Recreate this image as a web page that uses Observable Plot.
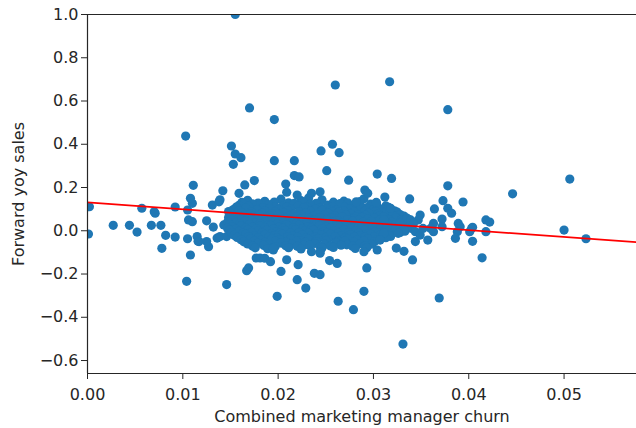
<!DOCTYPE html>
<html>
<head>
<meta charset="utf-8">
<script src="https://cdn.jsdelivr.net/npm/d3@7"></script>
<script src="https://cdn.jsdelivr.net/npm/@observablehq/plot@0.6"></script>
<style>
  html, body { margin: 0; padding: 0; background: #fff; }
  #chart svg { display: block; }
</style>
</head>
<body>
<div id="chart"></div>
<script>
// ---- data: [churn, forward yoy sales] ----
const upperPoints = [
  [0.0155, 1.0], [0.0103, 0.438], [0.0170, 0.568], [0.0196, 0.514], [0.0260, 0.674],
  [0.0317, 0.689], [0.0378, 0.560], [0.0151, 0.392], [0.0155, 0.355], [0.0161, 0.338],
  [0.0153, 0.307], [0.0196, 0.324], [0.0217, 0.324], [0.0245, 0.369], [0.0257, 0.400],
  [0.0264, 0.361], [0.0251, 0.278], [0.0304, 0.262], [0.0319, 0.242], [0.0175, 0.232],
  [0.0217, 0.255], [0.0222, 0.249], [0.0274, 0.234], [0.0506, 0.239], [0.0446, 0.171],
  [0.0378, 0.208], [0.0111, 0.210], [0.0142, 0.185], [0.0165, 0.212], [0.0208, 0.216],
  [0.0209, 0.178], [0.0220, 0.165], [0.0235, 0.173], [0.0244, 0.180], [0.0291, 0.188],
  [0.0294, 0.173], [0.0312, 0.156], [0.0338, 0.147], [0.0159, 0.173], [0.0108, 0.150],
  [0.0373, 0.139], [0.0394, 0.133], [0.0303, 0.131], [0.0282, 0.134]
];
const rightPoints = [
  [0.0364, 0.101], [0.0378, 0.104], [0.0382, 0.081], [0.0372, 0.054], [0.0349, 0.073],
  [0.0347, 0.050], [0.0335, 0.058], [0.0339, 0.050], [0.0318, 0.104], [0.0404, 0.016],
  [0.0403, 0.011], [0.0389, 0.034], [0.0391, 0.019], [0.0388, -0.004], [0.0386, -0.035],
  [0.0357, -0.043], [0.0404, -0.049], [0.0344, -0.050], [0.0401, -0.004], [0.0372, 0.019],
  [0.0363, 0.034], [0.0360, 0.011], [0.0363, -0.004], [0.0342, 0.034], [0.0344, -0.004],
  [0.0349, -0.020], [0.0352, 0.011], [0.0328, 0.034], [0.0332, 0.003], [0.0326, -0.012],
  [0.0311, 0.050], [0.0314, 0.019], [0.0311, -0.012], [0.0307, -0.043],
  [0.0418, 0.050], [0.0422, 0.040], [0.0418, -0.004], [0.0500, 0.003], [0.0523, -0.037],
  [0.0414, -0.125]
];
const lowerPoints = [
  [0.0341, -0.135], [0.0369, -0.311], [0.0290, -0.280], [0.0263, -0.326], [0.0279, -0.365],
  [0.0331, -0.524], [0.0293, -0.172], [0.0254, -0.138], [0.0262, -0.151], [0.0244, -0.203],
  [0.0238, -0.197], [0.0324, -0.080], [0.0332, -0.095], [0.0104, -0.234], [0.0146, -0.249],
  [0.0167, -0.185], [0.0169, -0.172], [0.0177, -0.126], [0.0181, -0.126], [0.0186, -0.127],
  [0.0192, -0.143], [0.0203, -0.188], [0.0199, -0.303], [0.0209, -0.134], [0.0220, -0.226],
  [0.0221, -0.157], [0.0229, -0.265], [0.0235, -0.097], [0.0244, -0.097], [0.0290, -0.097],
  [0.0195, -0.089], [0.0304, -0.089], [0.0244, -0.104], [0.0195, -0.081]
];
const leftPoints = [
  [0.0001, -0.015], [0.0002, 0.111], [0.0027, 0.025], [0.0044, 0.025], [0.0052, -0.006],
  [0.0067, 0.025], [0.0077, 0.025], [0.0082, -0.021], [0.0092, -0.029], [0.0078, -0.081],
  [0.0105, -0.037], [0.0108, -0.112], [0.0116, -0.049], [0.0127, -0.074], [0.0125, 0.046],
  [0.0132, 0.017], [0.0136, -0.034], [0.0057, 0.104], [0.0070, 0.088], [0.0071, 0.081],
  [0.0092, 0.110], [0.0131, 0.119], [0.0138, 0.134], [0.0110, 0.127], [0.0105, 0.096],
  [0.0106, 0.050], [0.0110, 0.042], [0.0115, -0.027], [0.0117, -0.050], [0.0125, -0.050],
  [0.0139, 0.143], [0.0143, 0.027], [0.0139, -0.027], [0.0146, -0.027]
];
const corePoints = [
  [0.0168, 0.141], [0.0186, 0.136], [0.0203, 0.146], [0.0224, 0.139], [0.0246, 0.143],
  [0.0269, 0.137], [0.0290, 0.148], [0.0232, 0.152],
  [0.0162, 0.131], [0.0179, 0.128], [0.0196, 0.133], [0.0211, 0.129], [0.0226, 0.134],
  [0.0240, 0.127], [0.0258, 0.132], [0.0273, 0.129], [0.0286, 0.135], [0.0303, 0.128],
  [0.0159, 0.118], [0.0173, 0.124], [0.0190, 0.121], [0.0205, 0.116], [0.0217, 0.127],
  [0.0234, 0.122], [0.0252, 0.119], [0.0265, 0.126], [0.0279, 0.117], [0.0297, 0.123],
  [0.0313, 0.115],
  [0.0156, 0.109], [0.0169, 0.113], [0.0184, 0.107], [0.0197, 0.111], [0.0209, 0.108],
  [0.0221, 0.114], [0.0230, 0.110], [0.0244, 0.107], [0.0257, 0.112], [0.0270, 0.109],
  [0.0282, 0.113], [0.0292, 0.106], [0.0304, 0.111], [0.0316, 0.108],
  [0.0153, 0.098], [0.0166, 0.104], [0.0178, 0.097], [0.0191, 0.102], [0.0200, 0.095],
  [0.0213, 0.101], [0.0227, 0.106], [0.0239, 0.099], [0.0250, 0.103], [0.0261, 0.096],
  [0.0275, 0.100], [0.0287, 0.105], [0.0299, 0.094], [0.0309, 0.099], [0.0322, 0.092],
  [0.0148, 0.089], [0.0159, 0.092], [0.0172, 0.087], [0.0186, 0.091], [0.0197, 0.088],
  [0.0210, 0.093], [0.0222, 0.087], [0.0234, 0.090], [0.0246, 0.094], [0.0257, 0.088],
  [0.0269, 0.091], [0.0280, 0.087], [0.0291, 0.093], [0.0302, 0.089], [0.0314, 0.092],
  [0.0325, 0.086],
  [0.0150, 0.079], [0.0162, 0.083], [0.0171, 0.076], [0.0183, 0.081], [0.0194, 0.078],
  [0.0206, 0.084], [0.0216, 0.077], [0.0229, 0.082], [0.0241, 0.075], [0.0253, 0.080],
  [0.0263, 0.085], [0.0276, 0.078], [0.0284, 0.073], [0.0295, 0.082], [0.0305, 0.077],
  [0.0317, 0.084], [0.0328, 0.075],
  [0.0153, 0.069], [0.0165, 0.072], [0.0174, 0.067], [0.0181, 0.071], [0.0191, 0.068],
  [0.0201, 0.073], [0.0212, 0.069], [0.0224, 0.071], [0.0237, 0.067], [0.0249, 0.072],
  [0.0260, 0.069], [0.0271, 0.073], [0.0282, 0.066], [0.0292, 0.071], [0.0306, 0.068],
  [0.0320, 0.072], [0.0332, 0.068],
  [0.0148, 0.061], [0.0158, 0.057], [0.0169, 0.063], [0.0177, 0.058], [0.0188, 0.062],
  [0.0197, 0.055], [0.0209, 0.060], [0.0220, 0.064], [0.0232, 0.057], [0.0244, 0.061],
  [0.0256, 0.059], [0.0267, 0.065], [0.0279, 0.056], [0.0288, 0.062], [0.0301, 0.058],
  [0.0311, 0.066], [0.0324, 0.060], [0.0336, 0.055],
  [0.0151, 0.049], [0.0161, 0.052], [0.0172, 0.048], [0.0182, 0.051], [0.0191, 0.047],
  [0.0200, 0.052], [0.0212, 0.049], [0.0223, 0.053], [0.0238, 0.048], [0.0251, 0.051],
  [0.0262, 0.047], [0.0273, 0.052], [0.0284, 0.049], [0.0294, 0.053], [0.0306, 0.048],
  [0.0316, 0.052], [0.0329, 0.049],
  [0.0147, 0.041], [0.0156, 0.038], [0.0165, 0.044], [0.0176, 0.037], [0.0186, 0.042],
  [0.0195, 0.039], [0.0204, 0.045], [0.0214, 0.036], [0.0226, 0.041], [0.0235, 0.043],
  [0.0247, 0.038], [0.0258, 0.040], [0.0266, 0.035], [0.0278, 0.044], [0.0289, 0.039],
  [0.0298, 0.042], [0.0309, 0.036], [0.0319, 0.041], [0.0331, 0.045],
  [0.0149, 0.029], [0.0160, 0.031], [0.0170, 0.028], [0.0181, 0.032], [0.0190, 0.029],
  [0.0199, 0.033], [0.0209, 0.028], [0.0219, 0.031], [0.0230, 0.033], [0.0240, 0.028],
  [0.0253, 0.031], [0.0262, 0.029], [0.0271, 0.033], [0.0283, 0.029], [0.0294, 0.031],
  [0.0304, 0.028], [0.0315, 0.033], [0.0323, 0.029], [0.0335, 0.031],
  [0.0152, 0.018], [0.0161, 0.023], [0.0173, 0.017], [0.0181, 0.021], [0.0192, 0.024],
  [0.0201, 0.016], [0.0211, 0.020], [0.0222, 0.025], [0.0231, 0.019], [0.0243, 0.022],
  [0.0251, 0.017], [0.0263, 0.021], [0.0272, 0.024], [0.0284, 0.018], [0.0293, 0.023],
  [0.0303, 0.020], [0.0314, 0.026], [0.0326, 0.017], [0.0338, 0.022],
  [0.0147, 0.011], [0.0156, 0.008], [0.0166, 0.012], [0.0177, 0.009], [0.0186, 0.013],
  [0.0195, 0.008], [0.0205, 0.011], [0.0216, 0.013], [0.0225, 0.009], [0.0235, 0.012],
  [0.0246, 0.008], [0.0255, 0.011], [0.0265, 0.013], [0.0276, 0.009], [0.0287, 0.012],
  [0.0297, 0.008], [0.0308, 0.011], [0.0318, 0.013], [0.0329, 0.009], [0.0340, 0.011],
  [0.0149, 0.002], [0.0159, -0.003], [0.0168, 0.004], [0.0179, -0.001], [0.0188, 0.003],
  [0.0198, -0.004], [0.0207, 0.001], [0.0218, 0.005], [0.0228, -0.002], [0.0237, 0.003],
  [0.0248, -0.005], [0.0259, 0.000], [0.0269, 0.004], [0.0281, -0.003], [0.0291, 0.002],
  [0.0301, -0.006], [0.0312, 0.001], [0.0322, 0.005], [0.0333, -0.002],
  [0.0151, -0.009], [0.0163, -0.012], [0.0172, -0.008], [0.0183, -0.011], [0.0193, -0.013],
  [0.0202, -0.009], [0.0213, -0.012], [0.0222, -0.008], [0.0232, -0.011], [0.0241, -0.013],
  [0.0252, -0.009], [0.0263, -0.012], [0.0274, -0.008], [0.0284, -0.011], [0.0295, -0.013],
  [0.0305, -0.009], [0.0316, -0.011], [0.0328, -0.008],
  [0.0154, -0.021], [0.0166, -0.017], [0.0175, -0.024], [0.0186, -0.019], [0.0196, -0.022],
  [0.0204, -0.016], [0.0216, -0.023], [0.0225, -0.018], [0.0234, -0.025], [0.0245, -0.020],
  [0.0255, -0.016], [0.0266, -0.022], [0.0276, -0.019], [0.0286, -0.024], [0.0297, -0.018],
  [0.0307, -0.021], [0.0318, -0.026],
  [0.0157, -0.031], [0.0169, -0.028], [0.0179, -0.033], [0.0190, -0.029], [0.0199, -0.032],
  [0.0210, -0.028], [0.0220, -0.031], [0.0229, -0.034], [0.0239, -0.029], [0.0249, -0.032],
  [0.0260, -0.028], [0.0270, -0.033], [0.0280, -0.029], [0.0291, -0.031], [0.0301, -0.028],
  [0.0313, -0.032],
  [0.0161, -0.041], [0.0171, -0.038], [0.0182, -0.044], [0.0193, -0.039], [0.0202, -0.043],
  [0.0213, -0.037], [0.0223, -0.045], [0.0232, -0.040], [0.0242, -0.036], [0.0252, -0.042],
  [0.0263, -0.046], [0.0273, -0.039], [0.0283, -0.043], [0.0294, -0.037], [0.0304, -0.041],
  [0.0164, -0.051], [0.0175, -0.048], [0.0186, -0.053], [0.0197, -0.049], [0.0208, -0.052],
  [0.0219, -0.048], [0.0229, -0.054], [0.0240, -0.050], [0.0250, -0.047], [0.0261, -0.052],
  [0.0270, -0.049], [0.0280, -0.053], [0.0290, -0.048], [0.0301, -0.051],
  [0.0168, -0.061], [0.0179, -0.058], [0.0191, -0.064], [0.0203, -0.057], [0.0214, -0.062],
  [0.0227, -0.066], [0.0238, -0.059], [0.0249, -0.063], [0.0261, -0.057], [0.0272, -0.065],
  [0.0286, -0.060], [0.0298, -0.062],
  [0.0173, -0.071], [0.0185, -0.068], [0.0197, -0.073], [0.0208, -0.069], [0.0220, -0.072],
  [0.0233, -0.068], [0.0244, -0.073], [0.0255, -0.070], [0.0266, -0.067], [0.0278, -0.072],
  [0.0291, -0.069],
  [0.0176, -0.079], [0.0189, -0.083], [0.0211, -0.078], [0.0224, -0.084], [0.0246, -0.080],
  [0.0258, -0.077], [0.0281, -0.082], [0.0293, -0.079]
];
// fitted regression line (end points)
const fitChurn = [0.0, 0.0576];
const fitSales = [0.131, -0.053];

const xDomain = [0, 0.0576];
const yDomain = [-0.66, 1.0];
const xTicks = [0.00, 0.01, 0.02, 0.03, 0.04, 0.05];
const yTicks = [-0.6, -0.4, -0.2, 0.0, 0.2, 0.4, 0.6, 0.8, 1.0];

const points = [...leftPoints, ...corePoints, ...upperPoints, ...lowerPoints, ...rightPoints]
  .map(([churn, sales]) => ({churn, sales}));
const fit = fitChurn.map((c, i) => ({churn: c, sales: fitSales[i]}));

const ink = "#262626";
const chart = Plot.plot({
  width: 636,
  height: 428,
  marginLeft: 87,
  marginRight: 0,
  marginTop: 14,
  marginBottom: 55,
  style: {fontFamily: "'DejaVu Sans', sans-serif", fontSize: "16px", color: ink, background: "#fff", overflow: "visible"},
  x: {domain: xDomain},
  y: {domain: yDomain},
  marks: [
    Plot.dot(points, {x: "churn", y: "sales", r: 4.6, fill: "#1f77b4", stroke: "none", clip: true}),
    Plot.line(fit, {x: "churn", y: "sales", stroke: "red", strokeWidth: 1.7, clip: true}),
    Plot.ruleX([xDomain[0]], {stroke: ink, strokeWidth: 1.2}),
    Plot.ruleY([yDomain[0]], {stroke: ink, strokeWidth: 1.2}),
    Plot.ruleY([yDomain[1]], {stroke: ink, strokeWidth: 1.2}),
    Plot.axisX({ticks: xTicks, tickFormat: d3.format(".2f"), tickSize: 6, tickPadding: 9,
      fontSize: 16, label: "Combined marketing manager churn", labelAnchor: "center",
      labelArrow: "none", labelOffset: 48}),
    Plot.axisY({ticks: yTicks, tickFormat: d3.format(".1f"), tickSize: 6, tickPadding: 3,
      fontSize: 16, label: "Forward yoy sales", labelAnchor: "center",
      labelArrow: "none", labelOffset: 75})
  ]
});
document.getElementById("chart").appendChild(chart);
</script>
</body>
</html>
